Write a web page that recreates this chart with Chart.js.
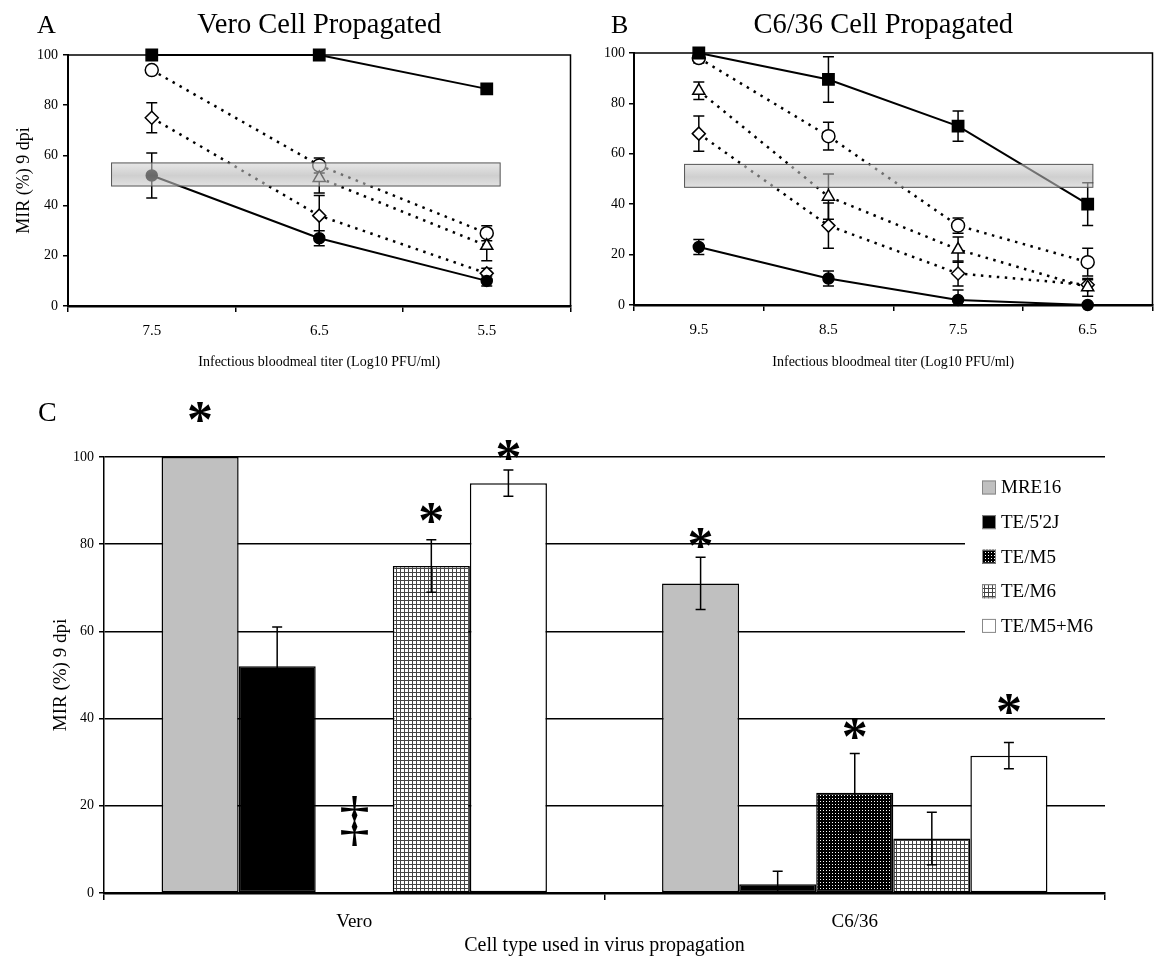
<!DOCTYPE html>
<html>
<head>
<meta charset="utf-8">
<script src="https://cdn.jsdelivr.net/npm/chart.js@4.4.1/dist/chart.umd.min.js"></script>
<style>
  body { margin: 0; background: #fff; width: 1162px; height: 958px; position: relative; overflow: hidden; }
  .panel { position: absolute; }
</style>
</head>
<body>
<div class="panel" style="left:0;top:0;width:580px;height:375px"><canvas id="chartA"></canvas></div>
<div class="panel" style="left:580px;top:0;width:582px;height:375px"><canvas id="chartB"></canvas></div>
<div class="panel" style="left:0;top:380px;width:1162px;height:578px"><canvas id="chartC"></canvas></div>
<script>
const serif = "'Liberation Serif', 'Times New Roman', serif";
Chart.defaults.font.family = serif;
Chart.defaults.color = '#000';

// ---- Panel A : Vero cell propagated ----
const titerA = ['7.5', '6.5', '5.5'];
const mre16A = [100, 100, 86.5];
const te52jA = [52, 27, 10];
const tem5A = [null, 51, 24];
const tem6A = [75, 36, 13];
const tem5m6A = [94, 56, 29];
const errMre16A = [0, 0, 1.5];
const errTe52jA = [9, 3, 2];
const errTem5A = [0, 6, 6];
const errTem6A = [6, 8, 2];
const errTem5m6A = [0, 3, 3];
const bandXA = [-0.24, 2.08];   // in category index units
const bandYA = [47.8, 57];

// ---- Panel B : C6/36 cell propagated ----
const titerB = ['9.5', '8.5', '7.5', '6.5'];
const mre16B = [100, 89.5, 71, 40];
const te52jB = [23, 10.5, 2, 0];
const tem5B = [85, 43, 22, 7];
const tem6B = [68, 31.5, 12.5, 8];
const tem5m6B = [98, 67, 31.5, 17];
const errMre16B = [0, 9, 6, 8.5];
const errTe52jB = [3, 3, 4, 0];
const errTem5B = [3.5, 9, 5, 3.5];
const errTem6B = [7, 9, 5, 2];
const errTem5m6B = [2, 5.5, 3, 5.5];
const bandXB = [-0.11, 3.04];
const bandYB = [46.7, 55.8];

// ---- Panel C : bars ----
const cellTypes = ['Vero', 'C6/36'];
const strains = ['MRE16', "TE/5'2J", 'TE/M5', 'TE/M6', 'TE/M5+M6'];
const mirMre16 = [100, 71];
const mirTe52j = [52, 2];
const mirTem5 = [0, 23];
const mirTem6 = [75, 12.5];
const mirTem5m6 = [94, 31.5];
const sdMre16 = [0, 6];
const sdTe52j = [9, 3];
const sdTem5 = [0, 9];
const sdTem6 = [6, 6];
const sdTem5m6 = [3, 3];
// significance marks per strain: [Vero, C6/36] and the MIR level where they sit
const markSym = [['*', '*'], ['', ''], ['\u2021', '*'], ['*', ''], ['*', '*']];
const markAt = [[110.4, 81.4], [null, null], [16.5, 37.6], [87.2, null], [101.5, 43.4]];

const yTicks = [0, 20, 40, 60, 80, 100];

// ---------- helpers ----------
function makePattern(dark) {
  const c = document.createElement('canvas');
  const g = c.getContext('2d');
  if (dark) {
    c.width = 3; c.height = 3;
    g.fillStyle = '#000'; g.fillRect(0, 0, 3, 3);
    g.fillStyle = '#fff'; g.fillRect(1, 1, 1, 1);
  } else {
    c.width = 4; c.height = 4;
    g.fillStyle = '#fff'; g.fillRect(0, 0, 4, 4);
    g.fillStyle = '#444'; g.fillRect(0, 0, 4, 1); g.fillRect(0, 0, 1, 4);
  }
  return g.createPattern(c, 'repeat');
}

const looks = {
  mre16: { shape: 'rect', r: 8, fill: '#000', dotted: false },
  te52j: { shape: 'circle', r: 5.5, fill: '#000', dotted: false },
  tem5: { shape: 'triangle', r: 7, fill: '#fff', dotted: true },
  tem6: { shape: 'rectRot', r: 6.5, fill: '#fff', dotted: true },
  tem5m6: { shape: 'circle', r: 6.5, fill: '#fff', dotted: true }
};

function lineSet(label, data, errors, look) {
  return {
    label, data, errors,
    borderColor: '#000',
    borderWidth: look.dotted ? 2.5 : 2,
    borderDash: look.dotted ? [2.5, 5.5] : [],
    pointStyle: look.shape,
    pointRadius: look.r,
    pointHoverRadius: look.r,
    pointBackgroundColor: look.fill,
    pointBorderColor: '#000',
    pointBorderWidth: 1.5,
    tension: 0,
    spanGaps: false,
    clip: false
  };
}

function drawErrors(chart, cap) {
  const ctx = chart.ctx, y = chart.scales.y;
  chart.data.datasets.forEach((ds, i) => {
    if (!ds.errors) return;
    const meta = chart.getDatasetMeta(i);
    meta.data.forEach((el, j) => {
      const v = ds.data[j], e = ds.errors[j];
      if (v == null || !e) return;
      const x = el.x;
      const top = y.getPixelForValue(v + e);
      const low = Math.max(0, v - e);
      const bot = y.getPixelForValue(low);
      ctx.save();
      ctx.strokeStyle = '#000';
      ctx.lineWidth = 1.5;
      ctx.setLineDash([]);
      ctx.beginPath();
      ctx.moveTo(x, top); ctx.lineTo(x, bot);
      ctx.moveTo(x - cap, top); ctx.lineTo(x + cap, top);
      if (low > 0) { ctx.moveTo(x - cap, bot); ctx.lineTo(x + cap, bot); }
      ctx.stroke();
      ctx.restore();
    });
  });
}

const errorBars = {
  id: 'errorBars',
  beforeDatasetsDraw(chart, args, o) { if (o.layer === 'before') drawErrors(chart, o.cap); },
  afterDatasetsDraw(chart, args, o) { if (o.layer === 'after') drawErrors(chart, o.cap); }
};

const frame = {
  id: 'frame',
  afterDraw(chart) {
    const a = chart.chartArea, ctx = chart.ctx;
    ctx.save();
    ctx.strokeStyle = '#000';
    ctx.lineWidth = 1.5;
    ctx.beginPath();
    ctx.moveTo(a.left, a.top); ctx.lineTo(a.right, a.top); ctx.lineTo(a.right, a.bottom);
    ctx.stroke();
    ctx.restore();
  }
};

const band = {
  id: 'band',
  afterDatasetsDraw(chart, args, o) {
    const x = chart.scales.x, y = chart.scales.y, ctx = chart.ctx;
    const l = x.getPixelForValue(o.xRange[0]), r = x.getPixelForValue(o.xRange[1]);
    const t = y.getPixelForValue(o.yRange[1]), b = y.getPixelForValue(o.yRange[0]);
    const g = ctx.createLinearGradient(0, t, 0, b);
    g.addColorStop(0, 'rgba(215,215,215,0.6)');
    g.addColorStop(0.55, 'rgba(175,175,175,0.6)');
    g.addColorStop(1, 'rgba(205,205,205,0.6)');
    ctx.save();
    ctx.fillStyle = g;
    ctx.fillRect(l, t, r - l, b - t);
    ctx.strokeStyle = '#555';
    ctx.lineWidth = 1;
    ctx.strokeRect(l, t, r - l, b - t);
    ctx.restore();
  }
};

const panelText = {
  id: 'panelText',
  afterDraw(chart, args, o) {
    const ctx = chart.ctx, a = chart.chartArea;
    ctx.save();
    ctx.fillStyle = '#000';
    ctx.textBaseline = 'alphabetic';
    ctx.textAlign = 'left';
    ctx.font = o.letterSize + 'px ' + serif;
    ctx.fillText(o.letter, o.letterX, o.baseline);
    if (o.title) {
      ctx.font = o.titleSize + 'px ' + serif;
      ctx.textAlign = 'center';
      ctx.fillText(o.title, (a.left + a.right) / 2 + (o.titleShift || 0), o.baseline);
    }
    ctx.restore();
  }
};

function centeredText(ctx, txt, cx, cy) {
  const m = ctx.measureText(txt);
  ctx.fillText(txt, cx - (m.actualBoundingBoxRight - m.actualBoundingBoxLeft) / 2,
    cy + (m.actualBoundingBoxAscent - m.actualBoundingBoxDescent) / 2);
}

const marks = {
  id: 'marks',
  afterDatasetsDraw(chart) {
    const ctx = chart.ctx, y = chart.scales.y;
    ctx.save();
    ctx.fillStyle = '#000';
    ctx.textAlign = 'left';
    ctx.textBaseline = 'alphabetic';
    chart.data.datasets.forEach((ds, i) => {
      const meta = chart.getDatasetMeta(i);
      meta.data.forEach((el, j) => {
        const s = markSym[i][j];
        if (!s) return;
        ctx.font = s === '*' ? 'bold 52px ' + serif : '61px ' + serif;
        centeredText(ctx, s, el.x, y.getPixelForValue(markAt[i][j]));
      });
    });
    ctx.restore();
  }
};

const cLegend = {
  id: 'cLegend',
  afterDatasetsDraw(chart, args, o) {
    const ctx = chart.ctx;
    ctx.save();
    ctx.fillStyle = '#fff';
    ctx.fillRect(o.clear[0], o.clear[1], o.clear[2], o.clear[3]);
    chart.data.datasets.forEach((ds, i) => {
      const cy = o.y0 + i * o.step;
      ctx.fillStyle = ds.backgroundColor;
      ctx.fillRect(o.x, cy - 7, 14, 14);
      ctx.strokeStyle = '#888';
      ctx.lineWidth = 1;
      ctx.strokeRect(o.x + 0.5, cy - 6.5, 13, 13);
      ctx.fillStyle = '#000';
      ctx.font = '19px ' + serif;
      ctx.textAlign = 'left';
      ctx.textBaseline = 'middle';
      ctx.fillText(ds.label, o.x + 19, cy + 1);
    });
    ctx.restore();
  }
};

// ---------- line panels ----------
function lineChart(id, labels, sets, opt) {
  return new Chart(document.getElementById(id), {
    type: 'line',
    data: { labels, datasets: sets },
    options: {
      animation: false,
      responsive: true,
      maintainAspectRatio: false,
      events: [],
      layout: { padding: { top: opt.top, right: 1, left: 0, bottom: 0 } },
      plugins: {
        legend: { display: false },
        tooltip: { enabled: false },
        errorBars: { layer: 'before', cap: 5.5 },
        band: { xRange: opt.bandX, yRange: opt.bandY },
        panelText: { letter: opt.letter, letterX: opt.letterX, letterSize: 26, baseline: 33,
          title: opt.title, titleSize: 28.5, titleShift: opt.titleShift }
      },
      scales: {
        x: {
          type: 'category',
          offset: true,
          grid: { offset: true, drawOnChartArea: false, tickLength: 6, color: '#000', lineWidth: 1.5 },
          border: { color: '#000', width: 2.5 },
          ticks: { font: { size: 15 }, padding: 10, color: '#000' },
          title: { display: true, text: 'Infectious bloodmeal titer (Log10 PFU/ml)',
            font: { size: 14 }, color: '#000', padding: { top: 0, bottom: 4 } },
          afterFit(s) { s.height = 375 - opt.bottom; }
        },
        y: {
          min: 0, max: 100,
          afterBuildTicks(s) { s.ticks = yTicks.map(v => ({ value: v })); },
          grid: { drawOnChartArea: false, tickLength: 5, color: '#000', lineWidth: 1.5 },
          border: { color: '#000', width: 2 },
          ticks: { font: { size: 14 }, padding: opt.yPad, color: '#000' },
          title: { display: !!opt.yTitle, text: opt.yTitle || '', font: { size: 18 }, color: '#000',
            padding: { top: 13, bottom: 0 } },
          afterFit(s) { s.width = opt.left; }
        }
      }
    },
    plugins: [errorBars, band, frame, panelText]
  });
}

lineChart('chartA', titerA, [
  lineSet('MRE16', mre16A, errMre16A, looks.mre16),
  lineSet("TE/5'2J", te52jA, errTe52jA, looks.te52j),
  lineSet('TE/M5', tem5A, errTem5A, looks.tem5),
  lineSet('TE/M6', tem6A, errTem6A, looks.tem6),
  lineSet('TE/M5+M6', tem5m6A, errTem5m6A, looks.tem5m6)
], { top: 55, bottom: 306, left: 68, yPad: 5, yTitle: 'MIR (%) 9 dpi',
     letter: 'A', letterX: 37, title: 'Vero Cell Propagated', titleShift: 0,
     bandX: bandXA, bandY: bandYA });

lineChart('chartB', titerB, [
  lineSet('MRE16', mre16B, errMre16B, looks.mre16),
  lineSet("TE/5'2J", te52jB, errTe52jB, looks.te52j),
  lineSet('TE/M5', tem5B, errTem5B, looks.tem5),
  lineSet('TE/M6', tem6B, errTem6B, looks.tem6),
  lineSet('TE/M5+M6', tem5m6B, errTem5m6B, looks.tem5m6)
], { top: 53, bottom: 305, left: 54, yPad: 4, yTitle: '',
     letter: 'B', letterX: 31, title: 'C6/36 Cell Propagated', titleShift: -10,
     bandX: bandXB, bandY: bandYB });

// ---------- bar panel ----------
const fills = ['#c0c0c0', '#000', makePattern(true), makePattern(false), '#fff'];
const mirs = [mirMre16, mirTe52j, mirTem5, mirTem6, mirTem5m6];
const sds = [sdMre16, sdTe52j, sdTem5, sdTem6, sdTem5m6];

new Chart(document.getElementById('chartC'), {
  type: 'bar',
  data: {
    labels: cellTypes,
    datasets: strains.map((s, i) => ({
      label: s,
      data: mirs[i],
      errors: sds[i],
      backgroundColor: fills[i],
      borderColor: '#000',
      borderWidth: 1.5,
      borderSkipped: false,
      categoryPercentage: 0.77,
      barPercentage: 1.0
    }))
  },
  options: {
    animation: false,
    responsive: true,
    maintainAspectRatio: false,
    events: [],
    layout: { padding: { top: 77, right: 57, left: 0, bottom: 0 } },
    plugins: {
      legend: { display: false },
      tooltip: { enabled: false },
      errorBars: { layer: 'after', cap: 5 },
      cLegend: { clear: [965, 88, 190, 177], x: 982, y0: 107.5, step: 34.6 },
      panelText: { letter: 'C', letterX: 38, letterSize: 28, baseline: 41, title: '' }
    },
    scales: {
      x: {
        grid: { offset: true, drawOnChartArea: false, tickLength: 7, color: '#000', lineWidth: 1.5 },
        border: { color: '#000', width: 2.5 },
        ticks: { font: { size: 19 }, padding: 11, color: '#000' },
        title: { display: true, text: 'Cell type used in virus propagation', font: { size: 20 },
          color: '#000', padding: { top: 0, bottom: 0 } },
        afterFit(s) { s.height = 65; }
      },
      y: {
        min: 0, max: 100,
        afterBuildTicks(s) { s.ticks = yTicks.map(v => ({ value: v })); },
        grid: { drawOnChartArea: true, tickLength: 5, color: '#000', lineWidth: 1.5 },
        border: { color: '#000', width: 1.5 },
        ticks: { font: { size: 14 }, padding: 5, color: '#000' },
        title: { display: true, text: 'MIR (%) 9 dpi', font: { size: 19 }, color: '#000',
          padding: { top: 50, bottom: 0 } },
        afterFit(s) { s.width = 104; }
      }
    }
  },
  plugins: [errorBars, marks, cLegend, panelText]
});
</script>
</body>
</html>
